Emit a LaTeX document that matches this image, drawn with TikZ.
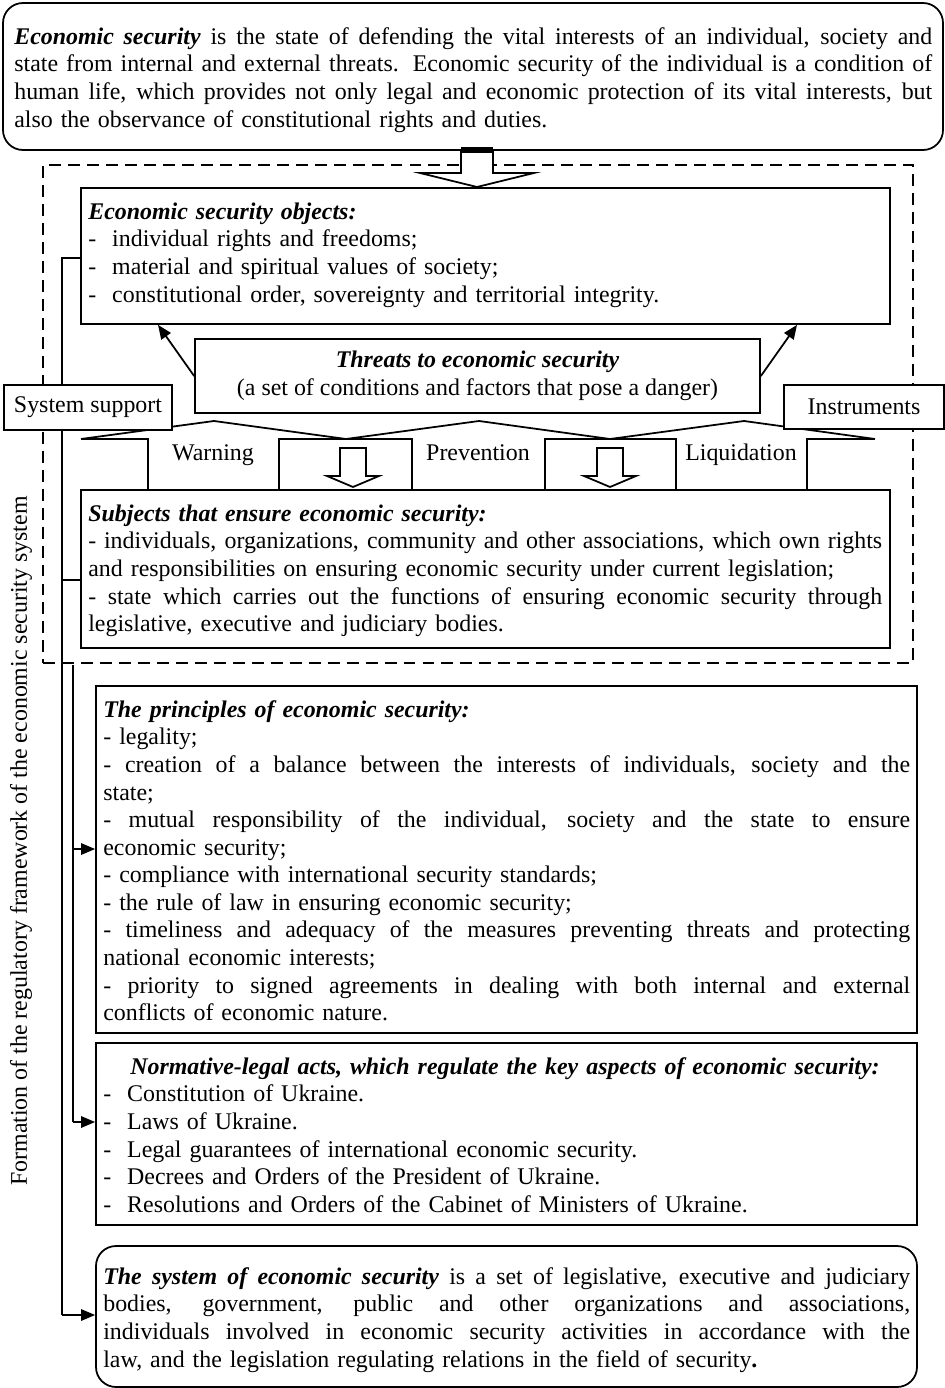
\documentclass[tikz,border=0pt]{standalone}
\usepackage{fontspec}
\setmainfont{Liberation Serif}
\usetikzlibrary{arrows.meta,fit}
\newcommand{\jusline}[2]{{\spaceskip=0pt\xspaceskip=0pt\makebox[#1][s]{#2}}}
\newcommand{\bitext}[1]{\textbf{\textit{#1}}}
\newcommand{\fsz}{\fontsize{13.6}{15.7}\selectfont}
\tikzset{
  box/.style={draw, line width=1pt, fill=white, inner sep=0pt},
  txt/.style={inner sep=0pt, anchor=north west, font=\fsz, align=left},
  lbl/.style={inner sep=0pt, font=\fsz},
  conn/.style={line width=1pt},
  arr/.style={line width=1pt, -{Triangle[length=8pt,width=6.5pt]}},
  hollow/.style={line width=1pt, fill=white, line join=miter},
  dashbox/.style={line width=1pt, dash pattern=on 6.8pt off 4pt},
}
\begin{document}
\begin{tikzpicture}[x=0.02cm,y=-0.02cm]
\useasboundingbox (0,0) rectangle (945,1388);
% top definition box
\node[box, rounded corners=0.4cm, fit={(3,3) (943,150)}] (def) {};
\node[txt, text width=18.36cm] (deftxt) at (14,24.6) {%
\jusline{18.36cm}{\strut\bitext{Economic security} is the state of defending the vital interests of an individual, society and}\\
\jusline{18.36cm}{state from internal and external threats. Economic security of the individual is a condition of}\\
\jusline{18.36cm}{human life, which provides not only legal and economic protection of its vital interests, but}\\
also the observance of constitutional rights and duties.};
% dashed frame
\node[dashbox, draw, inner sep=0pt, fit={(43,165) (913,663)}] (frame) {};
% connectors on the left
\coordinate (atop) at (62,258);
\coordinate (abot) at (62,1315);
\coordinate (btop) at (73,665);
\coordinate (bmid) at (73,849);
\coordinate (bbot) at (73,1122);
% objects box
\node[box, fit={(81,188) (890,324)}] (obj) {};
\draw[conn] (obj.west |- atop) -- (atop) -- (abot);
\draw[conn] (btop) -- (bbot);
% band
\node[box, fit={(81,490) (890,648)}] (sub) {};
\draw[conn] (sub.west |- 62,580) -- (62,580);
\draw[conn] (81,439) -- (214,421) -- (346,439) -- (479,421) -- (610,439) -- (744,421) -- (875,439);
\draw[conn] (81,439) -- (148,439) -- (148,490);
\draw[conn] (875,439) -- (807,439) -- (807,490);
\node[box, fill=none, fit={(279,439) (412,490)}] (r1) {};
\node[box, fill=none, fit={(545,439) (676,490)}] (r2) {};
\draw[hollow] (340,448) -- (340,476) -- (327,476) -- (353,487) -- (379,476) -- (366,476) -- (366,448) -- cycle;
\draw[hollow] (597,448) -- (597,476) -- (584,476) -- (610,487) -- (636,476) -- (623,476) -- (623,448) -- cycle;
\node[lbl, anchor=base] (warn) at (213,460) {Warning};
\node[lbl, anchor=base] (prev) at (478,460) {Prevention};
\node[lbl, anchor=base] (liq) at (741,460) {Liquidation};
% objects text
\node[txt, text width=15.9cm] (objtxt) at (88,199.6) {%
\strut\bitext{Economic security objects:}\\
-\ \ individual rights and freedoms;\\
-\ \ material and spiritual values of society;\\
-\ \ constitutional order, sovereignty and territorial integrity.};
% threats
\node[box, fit={(195,339) (760,413)}] (thr) {};
\node[lbl, align=center] (thrtxt) at (thr.center) {\bitext{Threats to economic security}\\(a set of conditions and factors that pose a danger)};
\draw[arr] (thr.west) -- (obj.south -| 158,0);
\draw[arr] (thr.east) -- (obj.south -| 797,0);
% side labels
\node[box, fit={(4,385) (172,430)}] (sup) {};
\node[lbl] (suptxt) at (sup.center) {System support};
\node[box, fit={(784,385) (944,429)}] (ins) {};
\node[lbl] (instxt) at (ins.center) {Instruments};
% subjects text
\node[txt, text width=15.88cm] (subtxt) at (88,501.6) {%
\strut\bitext{Subjects that ensure economic security:}\\
\jusline{15.88cm}{- individuals, organizations, community and other associations, which own rights}\\
and responsibilities on ensuring economic security under current legislation;\\
\jusline{15.88cm}{- state which carries out the functions of ensuring economic security through}\\
legislative, executive and judiciary bodies.};
% top hollow arrow
\draw[hollow] (def.south -| 461,0) -- (461,173) -- (420,173) -- (477,187) -- (534,173) -- (493,173) -- (def.south -| 493,0) -- cycle;
\fill (461,147) rectangle (493,153);
% principles
\node[box, fit={(96,686) (917,1033)}] (prin) {};
\node[txt, text width=16.14cm] (printxt) at (103,697.6) {%
\strut\bitext{The principles of economic security:}\\
- legality;\\
\jusline{16.14cm}{- creation of a balance between the interests of individuals, society and the}\\
state;\\
\jusline{16.14cm}{- mutual responsibility of the individual, society and the state to ensure}\\
economic security;\\
- compliance with international security standards;\\
- the rule of law in ensuring economic security;\\
\jusline{16.14cm}{- timeliness and adequacy of the measures preventing threats and protecting}\\
national economic interests;\\
\jusline{16.14cm}{- priority to signed agreements in dealing with both internal and external}\\
conflicts of economic nature.};
% normative
\node[box, fit={(96,1043) (917,1225)}] (norm) {};
\node[txt, text width=16.14cm] (normtxt) at (103,1054.6) {%
\strut\hspace*{0.54cm}\bitext{Normative-legal acts, which regulate the key aspects of economic security:}\\
-\ \ Constitution of Ukraine.\\
-\ \ Laws of Ukraine.\\
-\ \ Legal guarantees of international economic security.\\
-\ \ Decrees and Orders of the President of Ukraine.\\
-\ \ Resolutions and Orders of the Cabinet of Ministers of Ukraine.};
% system
\node[box, rounded corners=0.4cm, fit={(96,1246) (917,1387)}] (sys) {};
\node[txt, text width=16.14cm] (systxt) at (103,1264.6) {%
\jusline{16.14cm}{\strut\bitext{The system of economic security} is a set of legislative, executive and judiciary}\\
\jusline{16.14cm}{bodies, government, public and other organizations and associations,}\\
\jusline{16.14cm}{individuals involved in economic security activities in accordance with the}\\
law, and the legislation regulating relations in the field of security\textbf{.}};
% arrows from left lines
\draw[arr] (bmid) -- (bmid -| prin.west);
\draw[arr] (bbot) -- (bbot -| norm.west);
\draw[arr] (abot) -- (abot -| sys.west);
% rotated label
\node[lbl, rotate=90] (form) at (21,841) {Formation of the regulatory framework of the economic security system};
\end{tikzpicture}
\end{document}
